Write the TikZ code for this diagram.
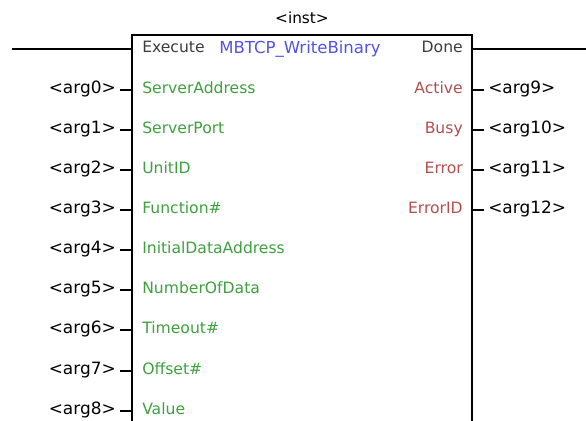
\documentclass[tikz,border=0pt]{standalone}
\usepackage{fontspec}
\setmainfont{DejaVu Sans}
\definecolor{inpin}{RGB}{62,160,62}
\definecolor{outpin}{RGB}{180,78,78}
\definecolor{fbname}{RGB}{82,82,235}
\definecolor{ctrl}{RGB}{60,60,60}
\tikzset{
  arg/.style={inner sep=0pt, font=\fontsize{12.7}{14}\selectfont},
  pin/.style={inner sep=0pt, font=\fontsize{11.7}{13}\selectfont},
  wire/.style={line width=1.5pt},
  fbox/.style={line width=1.5pt}
}

\begin{document}
\begin{tikzpicture}[x=0.75pt,y=-0.75pt]
\clip (0,0) rectangle (586,421);
\coordinate (tl) at (132,35);
\coordinate (tr) at (472,35);
\draw[fbox] (132,440) |- (tr) -- (472,440);

\node[arg, font=\fontsize{11.5}{13}\selectfont] (inst) at (302,18) {<inst>};
\node[pin, ctrl, anchor=mid west] (exe) at (142,49) {Execute};
\node[pin, fbname, font=\fontsize{12.4}{13}\selectfont] (type) at (300,49) {MBTCP\_WriteBinary};
\node[pin, ctrl, anchor=mid east] (done) at (463,49) {Done};
\coordinate (enl) at (12,49);
\coordinate (dnr) at (586,49);
\draw[wire] (enl) -- (exe.mid west -| tl);
\draw[wire] (done.mid east -| tr) -- (dnr);

% inputs
\foreach \name [count=\i from 0, evaluate=\i as \y using int(90+40.15*\i)] in
  {ServerAddress, ServerPort, UnitID, Function\#, InitialDataAddress,
   NumberOfData, Timeout\#, Offset\#, Value}
{
  \node[pin, inpin, anchor=mid west] (p\i) at (142,\y) {\name};
  \node[arg, anchor=mid east] (a\i) at (116,\y) {<arg\i>};
  \draw[wire] ([xshift=3pt]a\i.mid east) -- (a\i.mid east -| tl);
}

% outputs
\foreach \name [count=\j from 0, evaluate=\j as \y using int(90+40.15*\j),
  evaluate=\j as \k using int(9+\j)] in {Active, Busy, Error, ErrorID}
{
  \node[pin, outpin, anchor=mid east] (r\j) at (463,\y) {\name};
  \node[arg, anchor=mid west] (q\j) at (488,\y) {<arg\k>};
  \draw[wire] (r\j.mid east -| tr) -- ([xshift=-3pt]q\j.mid west);
}
\end{tikzpicture}
\end{document}
